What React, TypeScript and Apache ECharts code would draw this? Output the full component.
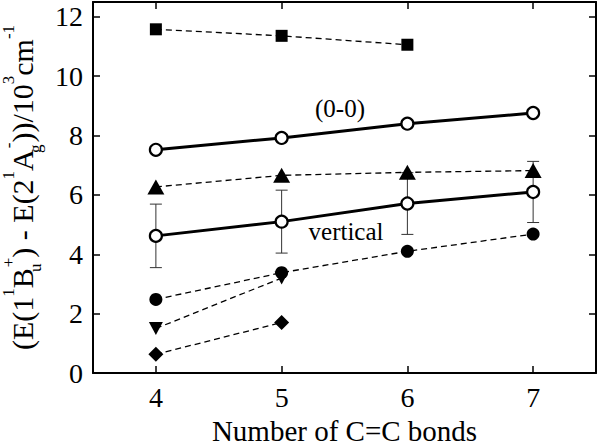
import React, { useEffect, useRef } from "react";
import * as echarts from "echarts";

const xTicks = [4, 5, 6, 7];
const yTicks = [0, 2, 4, 6, 8, 10, 12];

const squareX = [4, 5, 6];
const squareY = [11.58, 11.36, 11.06];

const zeroX = [4, 5, 6, 7];
const zeroY = [7.52, 7.92, 8.4, 8.76];

const triUpX = [4, 5, 6, 7];
const triUpY = [6.27, 6.66, 6.76, 6.82];

const vertX = [4, 5, 6, 7];
const vertY = [4.62, 5.1, 5.71, 6.1];
const vertErr = [1.07, 1.06, 1.04, 1.03];

const filledX = [4, 5, 6, 7];
const filledY = [2.48, 3.38, 4.1, 4.68];

const triDownX = [4, 5];
const triDownY = [1.5, 3.2];

const diamondX = [4, 5];
const diamondY = [0.63, 1.7];

const FONT = "Liberation Serif";

const pairs = (xs: number[], ys: number[]) => xs.map((x, i) => [x, ys[i]]);

export default function App() {
  const ref = useRef<HTMLDivElement>(null);
  useEffect(() => {
    if (!ref.current) return;
    document.body.style.margin = "0";
    const chart = echarts.init(ref.current, undefined, { renderer: "svg" });
    const axisLine = { show: true, onZero: false, lineStyle: { color: "#000", width: 2 } };
    const tickStyle = { color: "#000", width: 1.5 };
    const dashed = { color: "#000", width: 1.3, type: [6, 4] as any };
    const solid = { color: "#000", width: 3 };
    const errData = vertX.map((x, i) => [x, vertY[i] - vertErr[i], vertY[i] + vertErr[i]]);

    chart.setOption({
      animation: false,
      grid: { left: 93, right: 4, top: 2, bottom: 69, containLabel: false, outerBoundsMode: "none" },
      xAxis: [
        {
          type: "value",
          min: 3.5,
          max: 7.5,
          position: "bottom",
          axisLine,
          axisTick: { show: true, inside: true, length: 7, lineStyle: tickStyle, customValues: xTicks },
          axisLabel: { customValues: xTicks, fontSize: 28, fontFamily: FONT, color: "#000", margin: 10 },
          splitLine: { show: false },
          name: "Number of C=C bonds",
          nameLocation: "middle",
          nameGap: 37,
          nameTextStyle: { fontSize: 29, fontFamily: FONT, color: "#000", lineHeight: 30 },
        },
        {
          type: "value",
          min: 3.5,
          max: 7.5,
          position: "top",
          axisLine,
          axisTick: { show: true, inside: true, length: 7, lineStyle: tickStyle, customValues: xTicks },
          axisLabel: { show: false },
          splitLine: { show: false },
        },
      ],
      yAxis: [
        {
          type: "value",
          min: 0,
          max: 12.5,
          position: "left",
          axisLine,
          axisTick: { show: true, inside: true, length: 7, lineStyle: tickStyle, customValues: yTicks },
          axisLabel: { customValues: yTicks, fontSize: 28, fontFamily: FONT, color: "#000", margin: 10 },
          splitLine: { show: false },
          name:
            "{m|(E(1}{sup|1}{m|B}{sub|u}{sup|+}{m|) - E(2}{sup|1}{m|A}{sub|g}{sup|-}{m|))/10}{sup|3}{m|cm}{sup|-1}",
          nameLocation: "middle",
          nameRotate: 90,
          nameGap: 49,
          nameTextStyle: {
            color: "#000",
            fontFamily: FONT,
            rich: {
              m: { fontSize: 30, fontFamily: FONT, color: "#000", lineHeight: 44 },
              sup: { fontSize: 17, fontFamily: FONT, color: "#000", verticalAlign: "top" },
              sub: { fontSize: 17, fontFamily: FONT, color: "#000", verticalAlign: "bottom", width: 1 },
            },
          },
        },
        {
          type: "value",
          min: 0,
          max: 12.5,
          position: "right",
          axisLine,
          axisTick: { show: true, inside: true, length: 7, lineStyle: tickStyle, customValues: yTicks },
          axisLabel: { show: false },
          splitLine: { show: false },
        },
      ],
      graphic: [
        {
          type: "text",
          x: 340,
          y: 108,
          style: { text: "(0-0)", fontSize: 25, fontFamily: FONT, fill: "#000", align: "center", verticalAlign: "middle" },
        },
        {
          type: "text",
          x: 346,
          y: 231,
          style: { text: "vertical", fontSize: 25, fontFamily: FONT, fill: "#000", align: "center", verticalAlign: "middle" },
        },
      ],
      series: [
        {
          type: "custom",
          xAxisIndex: 0,
          yAxisIndex: 0,
          data: errData,
          encode: { x: 0, y: [1, 2] },
          z: 1,
          renderItem: (params: any, api: any) => {
            const x = api.value(0);
            const lo = api.value(1);
            const hi = api.value(2);
            const p1 = api.coord([x, hi]);
            const p2 = api.coord([x, lo]);
            const hw = 6;
            const st = { stroke: "#333", lineWidth: 1 };
            return {
              type: "group",
              children: [
                { type: "line", shape: { x1: p1[0], y1: p1[1], x2: p2[0], y2: p2[1] }, style: st },
                { type: "line", shape: { x1: p1[0] - hw, y1: p1[1], x2: p1[0] + hw, y2: p1[1] }, style: st },
                { type: "line", shape: { x1: p2[0] - hw, y1: p2[1], x2: p2[0] + hw, y2: p2[1] }, style: st },
              ],
            };
          },
        },
        {
          type: "line",
          data: pairs(squareX, squareY),
          symbol: "rect",
          symbolSize: 12,
          lineStyle: dashed,
          itemStyle: { color: "#000" },
        },
        {
          type: "line",
          data: pairs(zeroX, zeroY),
          symbol: "circle",
          symbolSize: 12,
          lineStyle: solid,
          itemStyle: { color: "#fff", borderColor: "#000", borderWidth: 2.2 },
        },
        {
          type: "line",
          data: pairs(triUpX, triUpY),
          symbol: "triangle",
          symbolSize: [17, 15],
          lineStyle: dashed,
          itemStyle: { color: "#000" },
        },
        {
          type: "line",
          data: pairs(vertX, vertY),
          symbol: "circle",
          symbolSize: 12,
          lineStyle: solid,
          itemStyle: { color: "#fff", borderColor: "#000", borderWidth: 2.2 },
        },
        {
          type: "line",
          data: pairs(filledX, filledY),
          symbol: "circle",
          symbolSize: 13,
          lineStyle: dashed,
          itemStyle: { color: "#000" },
        },
        {
          type: "line",
          data: pairs(triDownX, triDownY),
          symbol: "triangle",
          symbolRotate: 180,
          symbolSize: [14, 13],
          lineStyle: dashed,
          itemStyle: { color: "#000" },
        },
        {
          type: "line",
          data: pairs(diamondX, diamondY),
          symbol: "diamond",
          symbolSize: 15,
          lineStyle: dashed,
          itemStyle: { color: "#000" },
        },
      ],
    });
    return () => chart.dispose();
  }, []);
  return <div ref={ref} style={{ width: 600, height: 442 }} />;
}
